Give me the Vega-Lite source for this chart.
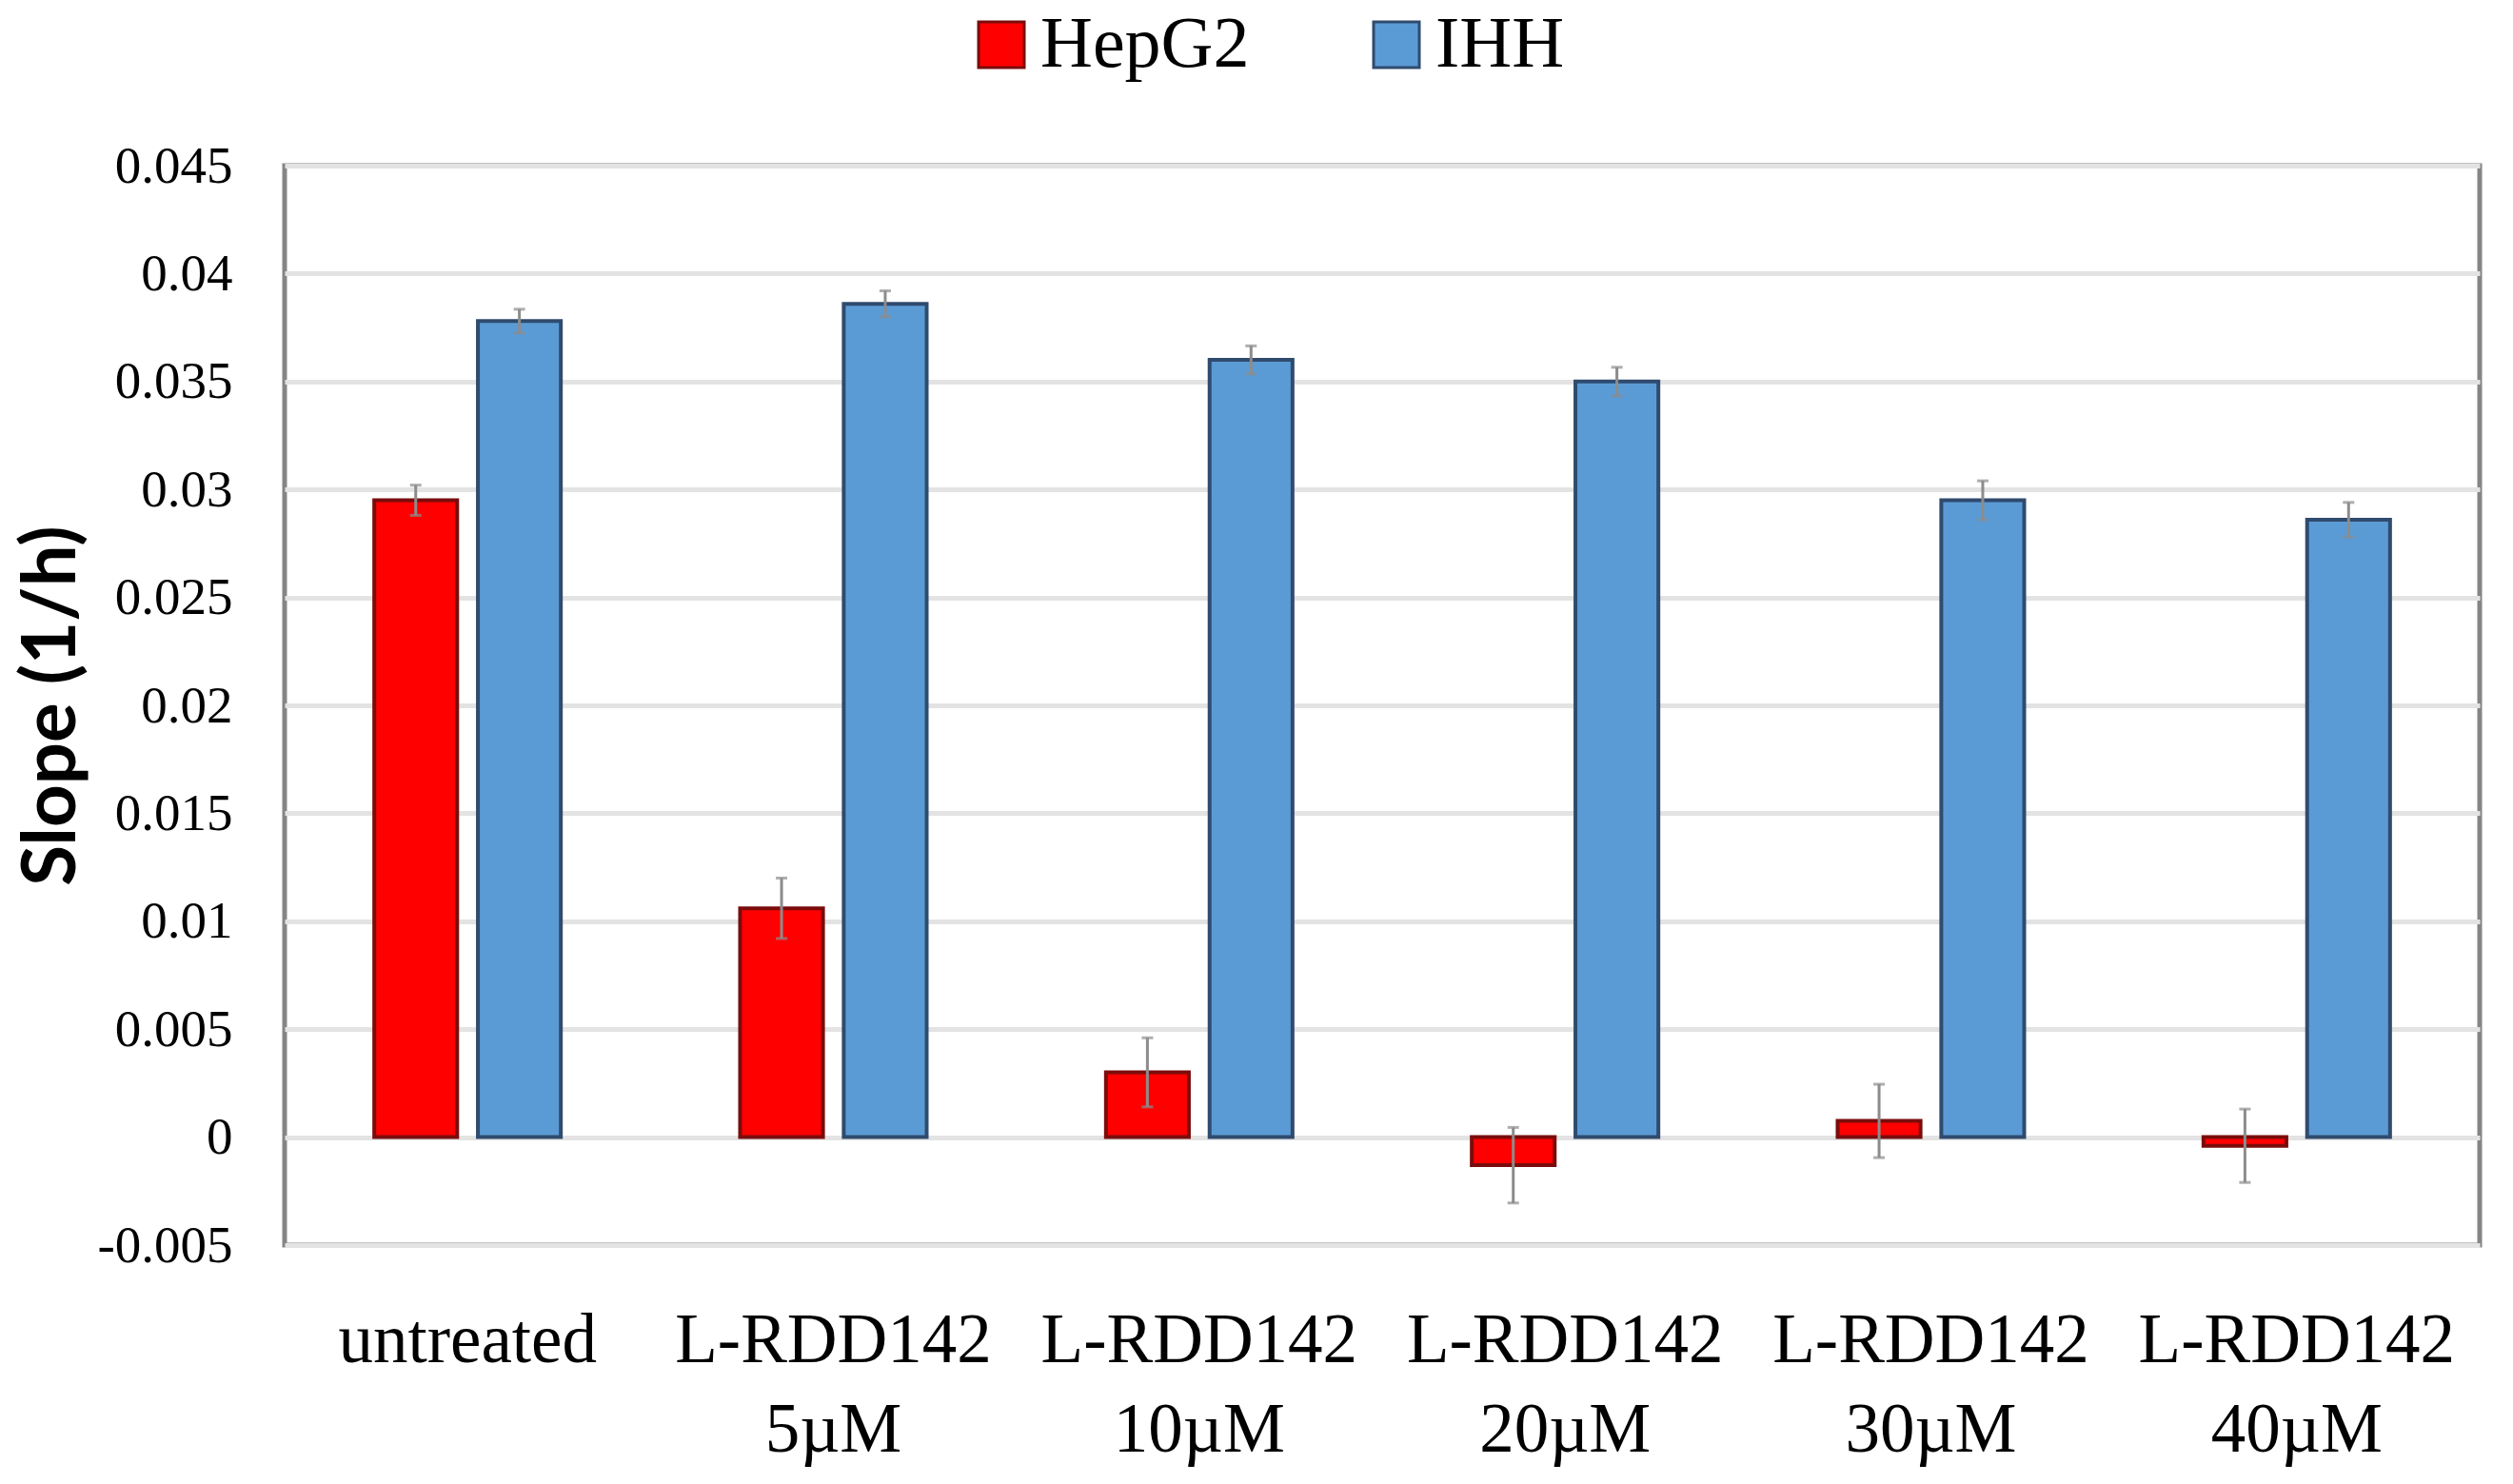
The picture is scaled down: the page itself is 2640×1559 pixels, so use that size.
{
  "$schema": "https://vega.github.io/schema/vega-lite/v6.json",
  "autosize": {"type": "none"},
  "padding": {"left": 299, "top": 174, "right": 35, "bottom": 251},
  "width": 2306,
  "height": 1134,
  "background": "white",
  "config": {"view": {"stroke": "#858585", "strokeWidth": 5}},
  "data": {"values": [
    {"cond": "untreated", "series": "HepG2", "value": 0.0295, "lo": 0.0288, "hi": 0.0302},
    {"cond": "untreated", "series": "IHH", "value": 0.0378, "lo": 0.03725, "hi": 0.03835},
    {"cond": "L-RDD142|5µM", "series": "HepG2", "value": 0.0106, "lo": 0.0092, "hi": 0.012},
    {"cond": "L-RDD142|5µM", "series": "IHH", "value": 0.0386, "lo": 0.038, "hi": 0.0392},
    {"cond": "L-RDD142|10µM", "series": "HepG2", "value": 0.003, "lo": 0.0014, "hi": 0.0046},
    {"cond": "L-RDD142|10µM", "series": "IHH", "value": 0.036, "lo": 0.03535, "hi": 0.03665},
    {"cond": "L-RDD142|20µM", "series": "HepG2", "value": -0.0013, "lo": -0.00305, "hi": 0.00045},
    {"cond": "L-RDD142|20µM", "series": "IHH", "value": 0.035, "lo": 0.03434, "hi": 0.03566},
    {"cond": "L-RDD142|30µM", "series": "HepG2", "value": 0.00075, "lo": -0.00095, "hi": 0.00245},
    {"cond": "L-RDD142|30µM", "series": "IHH", "value": 0.0295, "lo": 0.0286, "hi": 0.0304},
    {"cond": "L-RDD142|40µM", "series": "HepG2", "value": -0.0004, "lo": -0.0021, "hi": 0.0013},
    {"cond": "L-RDD142|40µM", "series": "IHH", "value": 0.0286, "lo": 0.0278, "hi": 0.0294}
  ]},
  "encoding": {
    "x": {
      "field": "cond", "type": "nominal",
      "sort": ["untreated", "L-RDD142|5µM", "L-RDD142|10µM", "L-RDD142|20µM", "L-RDD142|30µM", "L-RDD142|40µM"],
      "scale": {"paddingInner": 0.49, "paddingOuter": 0.245},
      "axis": {
        "title": null, "domain": false, "ticks": false, "grid": false, "labelAngle": 0,
        "labelFont": "Liberation Serif", "labelFontSize": 73, "labelColor": "#000000",
        "labelPadding": 64, "labelLineHeight": 94, "labelBaseline": "top", "labelLimit": 0,
        "labelExpr": "split(datum.label, '|')"
      }
    },
    "xOffset": {"field": "series", "type": "nominal", "sort": ["HepG2", "IHH"], "scale": {"paddingInner": 0.2, "paddingOuter": 0}}
  },
  "layer": [
    {
      "mark": {"type": "bar", "strokeWidth": 4},
      "encoding": {
        "y": {
          "field": "value", "type": "quantitative",
          "scale": {"domain": [-0.005, 0.045], "nice": false, "zero": false},
          "axis": {
            "values": [-0.005, 0, 0.005, 0.01, 0.015, 0.02, 0.025, 0.03, 0.035, 0.04, 0.045],
            "domain": false, "ticks": false, "grid": true, "gridColor": "#e3e3e3", "gridWidth": 5,
            "labelFont": "Liberation Serif", "labelFontSize": 55, "labelColor": "#000000", "labelPadding": 55,
            "labelExpr": "'' + datum.value", "labelLimit": 0,
            "title": "Slope (1/h)", "titleFont": "Lato", "titleFontWeight": "bold", "titleFontSize": 78,
            "titleColor": "#000000", "titleX": -221, "titleY": 567, "titleAngle": -90,
            "titleAlign": "center", "titleBaseline": "alphabetic"
          }
        },
        "fill": {
          "field": "series", "type": "nominal",
          "scale": {"domain": ["HepG2", "IHH"], "range": ["#FF0000", "#5B9BD5"]},
          "legend": {
            "orient": "none", "legendX": 715, "legendY": -165, "direction": "horizontal", "title": null,
            "symbolType": "square", "symbolSize": 2304, "symbolStrokeWidth": 3,
            "labelFont": "Liberation Serif", "labelFontSize": 76, "labelColor": "#000000", "labelLimit": 0,
            "labelOffset": 3, "columnPadding": 116, "padding": 0
          }
        },
        "stroke": {
          "field": "series", "type": "nominal",
          "scale": {"domain": ["HepG2", "IHH"], "range": ["#7B0C0C", "#2F4B6E"]}
        }
      }
    },
    {
      "mark": {"type": "rule", "color": "#8c8c8c", "strokeWidth": 3},
      "encoding": {
        "y": {"field": "lo", "type": "quantitative"},
        "y2": {"field": "hi"}
      }
    },
    {
      "mark": {"type": "tick", "color": "#8c8c8c", "thickness": 3, "size": 12, "orient": "horizontal"},
      "encoding": {"y": {"field": "lo", "type": "quantitative"}}
    },
    {
      "mark": {"type": "tick", "color": "#8c8c8c", "thickness": 3, "size": 12, "orient": "horizontal"},
      "encoding": {"y": {"field": "hi", "type": "quantitative"}}
    }
  ]
}
